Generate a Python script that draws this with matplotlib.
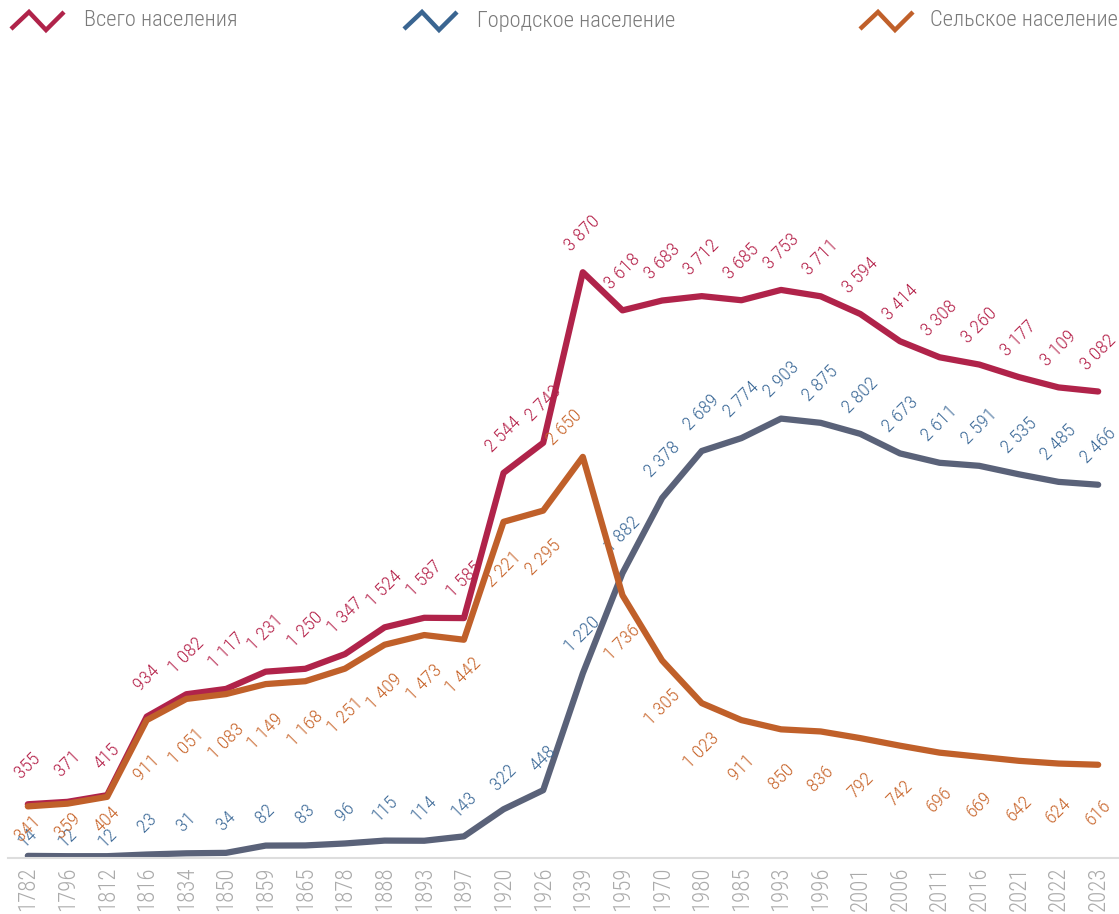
import matplotlib.pyplot as plt
from matplotlib.lines import Line2D
from matplotlib import font_manager

names = {f.name for f in font_manager.fontManager.ttflist}
FONT = 'Roboto Condensed' if 'Roboto Condensed' in names else 'DejaVu Sans'
plt.rcParams['font.family'] = [FONT, 'DejaVu Sans']
plt.rcParams['font.weight'] = 'light'

years = ['1782', '1796', '1812', '1816', '1834', '1850', '1859', '1865', '1878', '1888',
         '1893', '1897', '1920', '1926', '1939', '1959', '1970', '1980', '1985', '1993',
         '1996', '2001', '2006', '2011', '2016', '2021', '2022', '2023']
total = [355, 371, 415, 934, 1082, 1117, 1231, 1250, 1347, 1524, 1587, 1585, 2544, 2743,
         3870, 3618, 3683, 3712, 3685, 3753, 3711, 3594, 3414, 3308, 3260, 3177, 3109, 3082]
urban = [14, 12, 12, 23, 31, 34, 82, 83, 96, 115, 114, 143, 322, 448,
         1220, 1882, 2378, 2689, 2774, 2903, 2875, 2802, 2673, 2611, 2591, 2535, 2485, 2466]
rural = [341, 359, 404, 911, 1051, 1083, 1149, 1168, 1251, 1409, 1473, 1442, 2221, 2295,
         2650, 1736, 1305, 1023, 911, 850, 836, 792, 742, 696, 669, 642, 624, 616]
series_names = ['Всего населения', 'Городское население', 'Сельское население']

RED, RED_TXT = '#b0234a', '#b5224a'
BLUE_LINE, BLUE_TXT, BLUE_ICON = '#5a6279', '#3d6a98', '#3a6591'
ORANGE, ORANGE_TXT = '#c0602a', '#c8652b'


def fmt(v):
    return '{:,}'.format(v).replace(',', ' ')


fig = plt.figure(figsize=(11.19, 9.14), dpi=100)
ax = fig.add_axes([8 / 1119, 56 / 914, 1110 / 1119, 666 / 914])
x = list(range(len(years)))

kw = dict(linewidth=4.5, solid_capstyle='round', solid_joinstyle='round')
ax.plot(x, urban, color=BLUE_LINE, zorder=2, **kw)
ax.plot(x, total, color=RED, zorder=3, **kw)
ax.plot(x, rural, color=ORANGE, zorder=4, **kw)

FS = 14
lab = dict(textcoords='offset points', rotation=45, ha='center', va='center', fontsize=FS)
for i in x:
    ax.annotate(fmt(total[i]), (i, total[i]), xytext=(0, 28), color=RED_TXT, **lab)
    du = 13 if i < 3 else (23 if i < 14 else 28)
    ax.annotate(fmt(urban[i]), (i, urban[i]), xytext=(0, du), color=BLUE_TXT, **lab)
    if i == 14:
        ax.annotate(fmt(rural[i]), (i, rural[i]), xytext=(-13, 21), color=ORANGE_TXT, **lab)
    else:
        dr = 16 if i < 3 else (26 if i == 11 else 34)
        ax.annotate(fmt(rural[i]), (i, rural[i]), xytext=(0, -dr), color=ORANGE_TXT, **lab)

ax.set_xlim(-0.5, len(years) - 0.5)
ax.set_ylim(0, 4400)
ax.set_xticks(x)
ax.set_xticklabels(years, rotation=90, fontsize=16.5, color='#ababab')
ax.tick_params(axis='x', length=0, pad=6)
ax.set_yticks([])
for s in ['top', 'right', 'left']:
    ax.spines[s].set_visible(False)
ax.spines['bottom'].set_color('#dddddd')
ax.spines['bottom'].set_linewidth(1.5)

# legend along the top
legend_items = [(11, 84, RED), (404, 477, BLUE_ICON), (860, 930, ORANGE)]
for (ix, tx, col), name in zip(legend_items, series_names):
    xs = [ix, ix + 18, ix + 35, ix + 53]
    ys = [29, 12, 30, 12]
    fig.lines.append(Line2D([v / 1119 for v in xs], [1 - v / 914 for v in ys],
                            transform=fig.transFigure, color=col, linewidth=3.2,
                            solid_joinstyle='miter', solid_capstyle='butt'))
    fig.text(tx / 1119, 1 - 21 / 914, name, fontsize=16.2, color='#7a7a7a',
             ha='left', va='center')

fig.savefig('out.png', dpi=100)
